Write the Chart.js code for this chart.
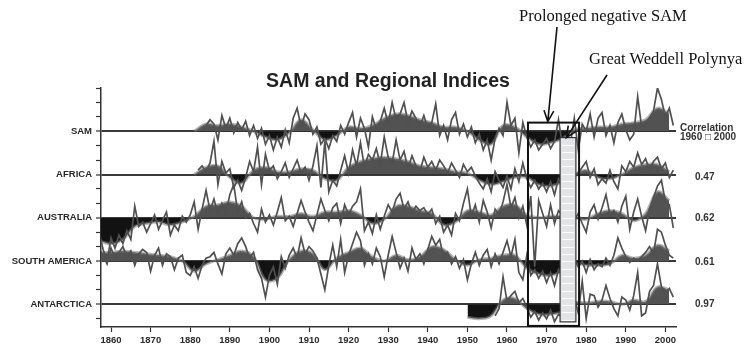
<!DOCTYPE html>
<html lang="en">
<head>
    <meta charset="UTF-8">
    <title>SAM and Regional Indices</title>
    <style>
        body { margin: 0; background: #fff; }
        #wrap { position: relative; width: 749px; height: 352px; }
        #wrap canvas { position: absolute; left: 0; top: 0; }
        .title { position: absolute; left: 388px; top: 71px; transform: translateX(-50%);
                 font: bold 19.5px/19px "Liberation Sans", Arial, sans-serif; color: #222; white-space: nowrap; }
        .note { position: absolute; font: 16.5px/16px "Liberation Serif", "Times New Roman", serif;
                color: #111; white-space: nowrap; }
        .corr { position: absolute; font: bold 10px/10px "Liberation Sans", Arial, sans-serif;
                color: #333; white-space: nowrap; }
    </style>
    <script src="https://cdn.jsdelivr.net/npm/chart.js"></script>
</head>
<body>
<div id="wrap">
    <canvas id="samChart"></canvas>
    <div class="title">SAM and Regional Indices</div>
    <div class="note" style="left:519px; top:8px;">Prolonged negative SAM</div>
    <div class="note" style="left:589px; top:51px;">Great Weddell Polynya</div>
    <div class="corr" style="left:680px; top:123px;">Correlation</div>
    <div class="corr" style="left:680px; top:132px;">1960 □ 2000</div>
    <div class="corr" style="left:695px; top:172px;">0.47</div>
    <div class="corr" style="left:695px; top:213px;">0.62</div>
    <div class="corr" style="left:695px; top:257px;">0.61</div>
    <div class="corr" style="left:695px; top:299px;">0.97</div>
</div>

<script>
    // region names and their baseline offsets (3 index units between rows)
    const regions = ['SAM', 'AFRICA', 'AUSTRALIA', 'SOUTH AMERICA', 'ANTARCTICA'];
    const offsets = [12, 9, 6, 3, 0];
    const xTicks = [1860, 1870, 1880, 1890, 1900, 1910, 1920, 1930, 1940, 1950, 1960, 1970, 1980, 1990, 2000];

    // annual index values (one per year from the start year)
    const samStart = 1884;
    const samAnnual = [
        0.4, 0.8, 0.5, -0.6, 1.1, 0.2, 0.9, -0.1, 0.6, 0.1,
        0.7, -0.3, 0.4, -0.5, 0.2, -0.9, -0.3, -1.3, -0.4, -1.1,
        0.1, -0.8, 0.9, 1.6, 0.3, 1.2, 0.8, -0.2, 0.3, -0.9,
        -0.5, -1.2, -0.3, -0.7, 0.4, -0.2, 0.6, 1.3, -0.4, 0.9,
        0.2, -1.1, 1.0, 0.1, 0.7, 1.6, 0.5, 2.0, 0.8, 1.2,
        2.0, 0.6, 1.4, 0.9, 0.3, 1.1, 0.2, 0.6, 1.9, -0.3,
        0.4, -0.6, 0.8, 1.3, -0.2, 0.5, -0.4, 0.3, -0.8, -0.2,
        -1.3, -0.6, -2.0, -0.5, 0.2, -0.3, 2.0, 0.4, 0.9, -1.5,
        0.6, -0.4, -1.1, -0.6, -1.3, -0.9, -0.5, -1.2, -0.7, 0.8,
        -1.0, -0.6, -0.9, 0.9, -1.3, 0.5, 0.0, 1.2, -0.4, 0.9,
        1.3, -0.3, 0.4, -0.8, 0.6, 1.2, 0.1, -0.6, -0.2, 2.4,
        0.3, 0.5, 0.9, 1.4, 3.0, 2.2, 1.0, 1.6, 0.4
    ];
    const africaStart = 1882;
    const africaAnnual = [
        0.3, 0.6, 0.2, 0.8, 2.3, -0.7, 0.9, 0.1, 0.4, -0.9,
        -0.4, -1.1, -0.2, 0.9, 0.2, 1.9, -0.7, 1.4, 0.3, 0.6,
        -0.3, 0.2, 0.8, -0.2, 0.4, 1.0, 0.1, 0.5, -0.4, 0.6,
        2.0, -0.9, 2.3, -1.2, -0.4, -0.8, 0.3, 1.3, 0.1, 1.7,
        0.6, 2.2, 0.5, 1.4, 1.0, 1.8, 0.7, 2.6, 1.2, 0.8,
        2.4, 1.0, 1.6, 0.4, 1.3, 0.6, 0.2, 1.2, 0.5, 0.9,
        0.3, 1.0, 0.6, 0.1, 0.8, 0.3, -0.2, 0.7, 0.2, 0.5,
        -0.1, -0.6, -1.0, -0.3, -1.2, 0.2, -0.4, -0.9, -0.1, -1.0,
        0.4, -0.5, 0.8, -0.3, -0.9, -0.4, -1.0, -0.6, -1.2, -0.5,
        -1.4, -0.3, -0.8, 0.6, -0.5, -0.2, 0.1, 0.5, 0.9, -0.2,
        0.4, -0.7, -0.3, -0.6, 0.3, -0.5, -1.0, 0.6, 0.2, 0.9,
        0.5, 1.5, 0.7, 1.1, 0.3, 0.9, 1.2, 0.4, 0.8, -0.2,
        0.3
    ];
    const australiaStart = 1857;
    const australiaAnnual = [
        -1.0, -2.2, -3.0, -1.4, -2.1, -1.2, -1.8, -0.9, -1.5, 0.8,
        -0.6, -0.3, -1.0, -0.4, 0.2, -0.8, -0.2, 0.4, -1.2, -0.5,
        -0.9, 0.1, -0.3, 0.2, 1.1, -0.8, 0.6, 1.9, 0.5, 1.3,
        0.2, 1.0, 0.3, 1.6, 2.3, 0.4, 1.1, 0.0, 0.3, -0.4,
        -1.0, 0.6, -0.3, 0.2, -0.5, 0.4, 1.4, -0.2, 0.1, -0.6,
        0.3, 1.2, 0.4, -0.3, -0.9, 0.2, 1.3, 0.5, -0.2, 0.7,
        1.0, -0.4, 0.9, 0.2, 0.8, 1.1, 2.0, -0.9, -0.3, -1.1,
        0.2, -0.8, 0.1, 0.9, 0.4, 1.3, 1.7, 0.6, 1.1, 0.3,
        0.8, 0.5, 0.7, 0.2, 0.6, -0.4, 0.1, -1.0, -0.5, -1.2,
        0.3, -0.2, 1.0, 2.0, 0.1, 0.9, -0.3, 1.2, 0.4, -0.7,
        0.6, 0.2, 1.1, 2.3, 0.7, 1.4, 0.0, 0.8, -0.5, 1.5,
        -3.4, 1.2, 0.3, -0.6, 0.9, -0.4, 0.5, 0.2, -0.3, 0.4,
        -0.2, 0.3, -0.4, -1.0, 0.4, 0.9, -0.1, 0.7, 1.6, 0.2,
        0.5, -0.3, 0.8, 1.5, -0.8, 0.4, 1.3, 0.1, -0.9, 0.6,
        1.4, 2.2, 2.6, 1.1, 0.9, -0.7
    ];
    const southAmericaStart = 1857;
    const southAmericaAnnual = [
        0.8, 0.4, -0.2, 0.9, 0.2, 0.6, 1.0, 0.3, 0.7, -0.3,
        0.5, 0.8, 0.6, -0.7, 0.4, 0.9, -0.3, 0.5, 0.3, -0.6,
        0.2, 0.4, -0.8, -1.0, -0.4, -1.2, -0.3, 0.2, 0.3, 0.6,
        -0.2, -0.9, 0.5, 0.9, 0.4, 1.2, 1.6, 1.0, 0.2, 0.6,
        -0.6, -1.2, -2.5, -1.0, -0.4, -1.6, 0.3, -0.5, 0.4, 0.9,
        0.2, 1.6, 0.5, 1.0, 0.7, 0.2, -0.9, -2.0, -0.3, 1.1,
        -0.4, 1.5, -0.8, 0.4, 1.2, 2.0, 1.4, -0.3, 0.5, -0.2,
        0.9, 0.3, -1.1, 0.4, 1.7, 0.6, -0.5, 0.2, -0.7, 0.9,
        0.1, 0.5, -0.2, 0.8, 1.7, 1.1, 1.5, 0.2, 0.6, -0.2,
        0.3, -0.5, 0.1, -1.3, -0.2, 0.6, -0.3, 0.4, 0.8, -0.4,
        0.5, -0.2, 0.6, 1.4, 0.3, 1.5, -0.8, -1.3, 0.4, -1.0,
        -0.6, -1.2, -0.7, -1.5, -0.8, -1.7, -0.6, -1.1, 0.3, -0.7,
        0.2, -0.4, 0.0, -0.8, 0.1, -0.6, -0.2, -0.4, 0.2, -0.3,
        0.4, 1.6, 0.9, 0.3, -0.1, 0.2, 0.0, 0.3, 0.6, 1.0,
        0.5, 2.2, 2.0, 1.1, 0.4, 0.2
    ];
    const antarcticaStart = 1957;
    const antarcticaAnnual = [
        -0.8, -0.3, 1.9, 0.2, 0.6, 0.9, 0.1, 0.4, -0.2, -0.9,
        -0.5, -1.1, -0.6, -1.0, -0.4, -1.2, -0.7, -0.9, 0.8, -0.4,
        0.5, -0.6, 1.6, -1.0, 0.7, 0.6, -0.2, 0.3, 1.3, 0.4,
        -0.3, -0.8, 0.5, 0.3, -0.4, 0.6, 2.2, -0.8, -0.6, 0.9,
        1.3, 2.8, 1.2, 0.8, 1.1, 0.5
    ];

    // smoothed (filled) curves, read every 3 years
    const smoothYears = [
        1857, 1860, 1863, 1866, 1869, 1872, 1875, 1878, 1881, 1884,
        1887, 1890, 1893, 1896, 1899, 1902, 1905, 1908, 1911, 1914,
        1917, 1920, 1923, 1926, 1929, 1932, 1935, 1938, 1941, 1944,
        1947, 1950, 1953, 1956, 1959, 1962, 1965, 1968, 1971, 1974,
        1977, 1980, 1983, 1986, 1989, 1992, 1995, 1998, 2001
    ];
    const samSmooth = [
        null, null, null, null, null, null, null, null,
        0.0, 0.5, 0.4, 0.5, 0.3, 0.0, -0.4, -0.6, -0.1, 0.8,
        0.1, -0.6, -0.3, 0.3, 0.2, 0.4, 0.9, 1.2, 1.1, 0.8,
        0.6, 0.3, 0.3, 0.0, -0.6, -0.9, 0.4, 0.3, -0.4, -0.9,
        -0.8, -0.5, 0.1, 0.2, 0.3, 0.3, 0.5, 0.6, 0.8, 1.6, 1.2
    ];
    const africaSmooth = [
        null, null, null, null, null, null, null, null,
        0.0, 0.5, 0.6, -0.2, -0.6, 0.3, 0.5, 0.2, 0.2, 0.4,
        0.3, -0.3, -0.4, 0.5, 0.9, 1.1, 1.2, 1.1, 0.9, 0.6,
        0.5, 0.4, 0.2, 0.1, -0.4, -0.7, -0.5, -0.2, -0.2, -0.7,
        -0.8, -0.5, 0.0, 0.3, -0.2, -0.3, 0.0, 0.5, 0.7, 0.7, 0.2
    ];
    const australiaSmooth = [
        -1.6, -1.8, -1.5, -0.6, -0.4, -0.3, -0.5, -0.3,
        0.1, 0.8, 0.9, 1.1, 0.8, 0.0, -0.1, 0.1, 0.1, 0.3,
        0.1, 0.4, 0.4, 0.5, 0.2, -0.4, -0.1, 0.8, 0.8, 0.5,
        0.3, -0.5, -0.3, 0.5, 0.4, 0.2, 0.8, 0.9, 0.2, 0.0,
        0.1, 0.1, 0.0, -0.1, 0.3, 0.5, 0.3, -0.2, 0.3, 1.8, 1.2
    ];
    const southAmericaSmooth = [
        0.6, 0.6, 0.7, 0.6, 0.5, 0.4, 0.3, 0.0,
        -0.7, -0.2, 0.1, 0.4, 0.7, 0.3, -1.3, -1.2, 0.1, 0.7,
        0.5, -0.6, 0.2, 0.6, 0.9, 0.3, 0.0, 0.4, 0.1, 0.3,
        1.0, 0.8, 0.1, -0.3, 0.1, 0.2, 0.4, 0.4, -0.5, -0.9,
        -1.0, -0.7, -0.2, -0.3, -0.3, -0.2, 0.4, 0.2, 0.4, 1.1, 0.7
    ];
    const antarcticaSmooth = [
        null, null, null, null, null, null, null, null, null, null,
        null, null, null, null, null, null, null, null, null, null,
        null, null, null, null, null, null, null, null, null, null,
        null, -0.9, -1.0, -0.8, 0.3, 0.4, -0.3, -0.7, -0.7, -0.5,
        0.1, 0.1, 0.2, 0.2, 0.0, 0.3, 0.2, 1.2, 1.0
    ];

    // highlighted periods
    const negSamBox = { from: 1965.3, to: 1978.2, top: 12.6, bottom: -1.5 };
    const polynyaBox = { from: 1973.4, to: 1977.4, top: 11.56, bottom: -1.22 };

    function annualPoints(start, values, offset) {
        return values.map((v, i) => ({ x: start + i, y: v + offset }));
    }
    function smoothPoints(values, offset) {
        const pts = [];
        smoothYears.forEach((yr, i) => {
            if (values[i] !== null) pts.push({ x: yr, y: values[i] + offset });
        });
        return pts;
    }

    const series = [
        [samStart, samAnnual, samSmooth],
        [africaStart, africaAnnual, africaSmooth],
        [australiaStart, australiaAnnual, australiaSmooth],
        [southAmericaStart, southAmericaAnnual, southAmericaSmooth],
        [antarcticaStart, antarcticaAnnual, antarcticaSmooth]
    ];

    const datasets = [];
    series.forEach((s, k) => {
        const off = offsets[k];
        datasets.push({
            label: regions[k] + ' smoothed',
            data: smoothPoints(s[2], off),
            borderColor: 'rgba(120,120,120,0.55)',
            borderWidth: 3,
            pointRadius: 0,
            tension: 0.4,
            fill: { target: { value: off }, above: '#525252', below: '#121212' },
            order: 2
        });
        datasets.push({
            label: regions[k],
            data: annualPoints(s[0], s[1], off),
            borderColor: '#505050',
            borderWidth: 1.7,
            pointRadius: 0,
            tension: 0,
            fill: false,
            order: 1
        });
    });

    function arrow(ctx, x0, y0, x1, y1) {
        const a = Math.atan2(y1 - y0, x1 - x0);
        const len = 12, spread = 0.42;
        ctx.beginPath();
        ctx.moveTo(x0, y0);
        ctx.lineTo(x1, y1);
        ctx.moveTo(x1 - len * Math.cos(a - spread), y1 - len * Math.sin(a - spread));
        ctx.lineTo(x1, y1);
        ctx.lineTo(x1 - len * Math.cos(a + spread), y1 - len * Math.sin(a + spread));
        ctx.stroke();
    }

    const notesPlugin = {
        id: 'notes',
        afterDraw(chart) {
            const { ctx, scales: { x, y } } = chart;
            ctx.save();
            // Weddell Polynya strip
            const p0 = x.getPixelForValue(polynyaBox.from), p1 = x.getPixelForValue(polynyaBox.to);
            const q0 = y.getPixelForValue(polynyaBox.top), q1 = y.getPixelForValue(polynyaBox.bottom);
            ctx.fillStyle = '#e2e4e6';
            ctx.fillRect(p0, q0, p1 - p0, q1 - q0);
            ctx.strokeStyle = '#ffffff';
            ctx.lineWidth = 1;
            for (let yy = q0 + 7; yy < q1 - 2; yy += 7.3) {
                ctx.beginPath();
                ctx.moveTo(p0 + 2, Math.round(yy) + 0.5);
                ctx.lineTo(p1 - 2, Math.round(yy) + 0.5);
                ctx.stroke();
            }
            ctx.strokeStyle = '#333';
            ctx.lineWidth = 1.2;
            ctx.strokeRect(p0, q0, p1 - p0, q1 - q0);

            // prolonged negative SAM box
            const b0 = x.getPixelForValue(negSamBox.from), b1 = x.getPixelForValue(negSamBox.to);
            const c0 = y.getPixelForValue(negSamBox.top), c1 = y.getPixelForValue(negSamBox.bottom);
            ctx.strokeStyle = '#111';
            ctx.lineWidth = 2;
            ctx.strokeRect(b0, c0, b1 - b0, c1 - c0);

            // arrows from the notes
            ctx.lineWidth = 1.6;
            arrow(ctx, 557, 27, x.getPixelForValue(1970.3), c0 - 1);
            arrow(ctx, 607, 75, x.getPixelForValue(1975.0), q0);
            ctx.restore();
        }
    };

    const labelFont = { family: '"Liberation Sans", Arial, sans-serif', size: 9.5, weight: 'bold' };

    new Chart(document.getElementById('samChart'), {
        type: 'line',
        data: { datasets: datasets },
        options: {
            responsive: true,
            maintainAspectRatio: false,
            animation: false,
            layout: { padding: { top: 88, right: 73, left: 0, bottom: 0 } },
            plugins: {
                legend: { display: false },
                tooltip: { enabled: false },
                title: { display: false }
            },
            scales: {
                x: {
                    type: 'linear',
                    min: 1857.47,
                    max: 2002.68,
                    afterBuildTicks: s => { s.ticks = xTicks.map(v => ({ value: v })); },
                    afterFit: s => { s.height = 25; },
                    grid: { drawOnChartArea: false, drawTicks: true, tickLength: 5, tickColor: '#333', tickWidth: 1.2 },
                    border: { display: true, color: '#333', width: 1.5 },
                    ticks: { font: labelFont, color: '#2a2a2a', padding: 3, maxRotation: 0, callback: v => String(v) }
                },
                y: {
                    type: 'linear',
                    min: -1.576,
                    max: 15,
                    afterBuildTicks: s => {
                        const t = [];
                        for (let v = -1; v <= 15; v++) t.push({ value: v });
                        s.ticks = t;
                    },
                    afterFit: s => { s.width = 101; },
                    grid: {
                        drawTicks: true,
                        tickLength: 5,
                        tickColor: '#333',
                        tickWidth: 1.2,
                        color: c => offsets.includes(c.tick.value) ? '#3a3a3a' : 'rgba(0,0,0,0)',
                        lineWidth: c => offsets.includes(c.tick.value) ? 2 : 1
                    },
                    border: { display: true, color: '#333', width: 1.5 },
                    ticks: {
                        font: labelFont,
                        color: '#2a2a2a',
                        padding: 4,
                        autoSkip: false,
                        callback: v => {
                            const i = offsets.indexOf(v);
                            return i >= 0 ? regions[i] : '';
                        }
                    }
                }
            }
        },
        plugins: [notesPlugin]
    });
</script>
</body>
</html>
